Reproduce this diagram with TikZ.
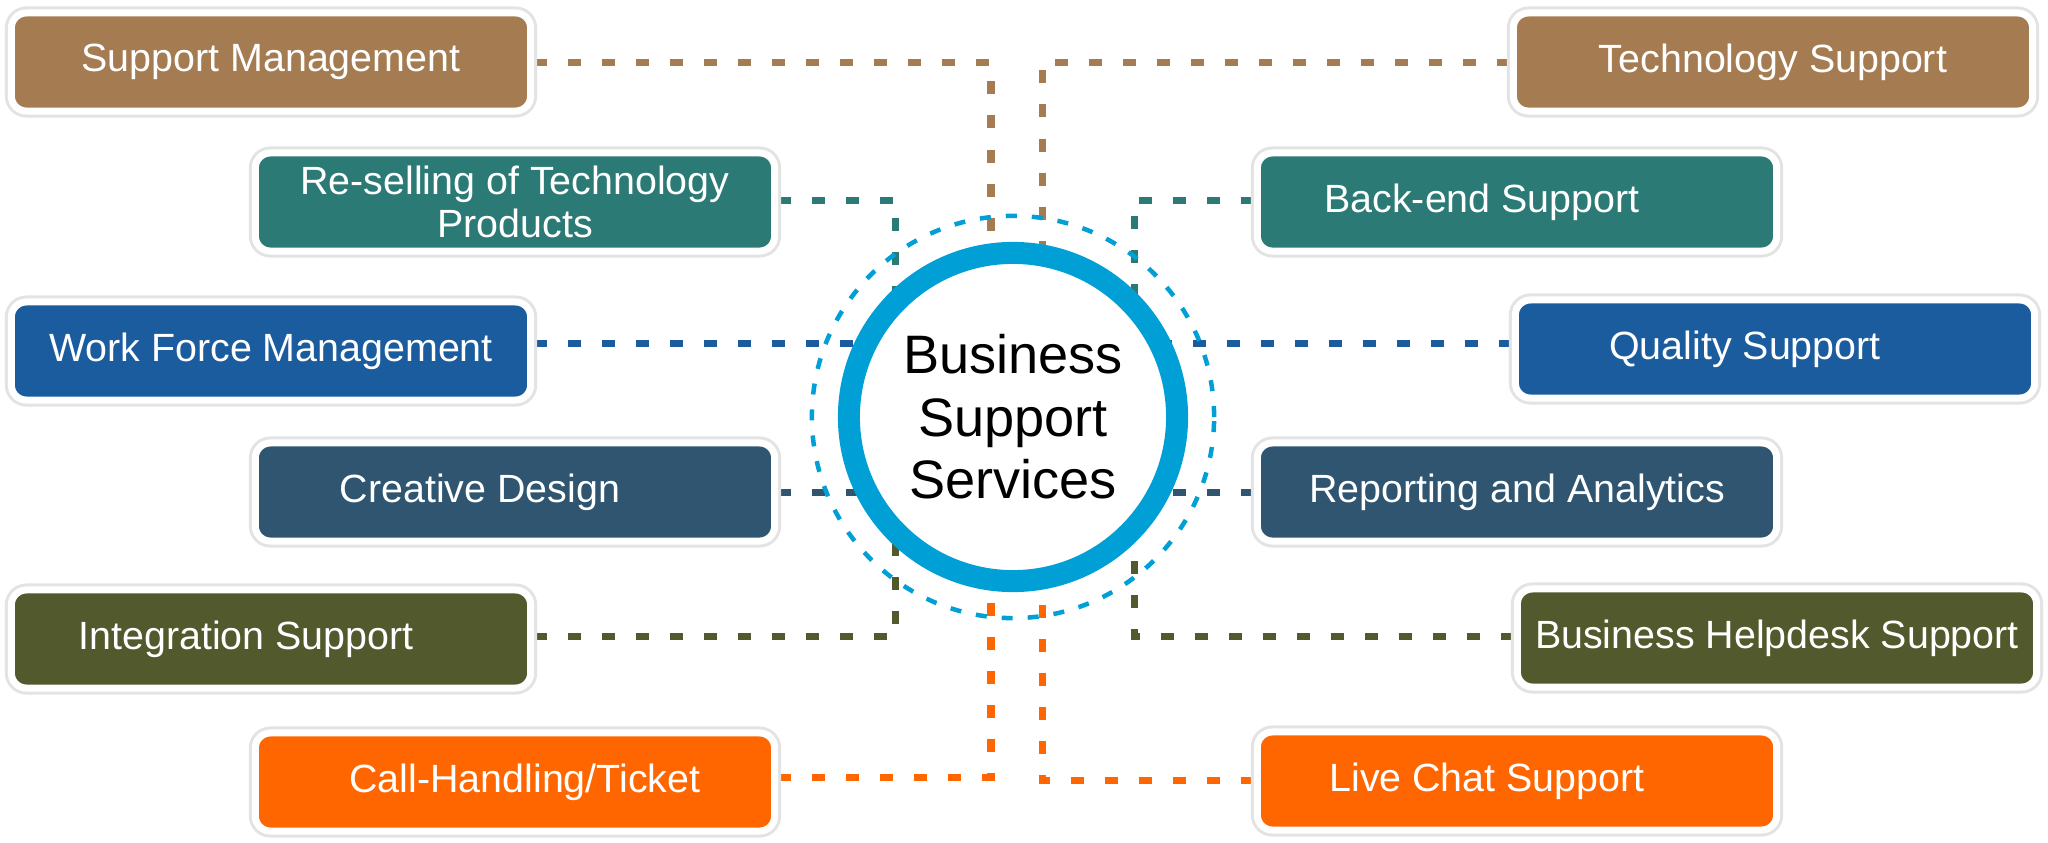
\documentclass[tikz,border=0pt]{standalone}
\usepackage{fontspec}
\setmainfont{Liberation Sans}
\usepackage{xcolor}
\usepackage{tikz}
\usetikzlibrary{positioning, backgrounds}

\definecolor{bsBrown}{RGB}{165,124,82}
\definecolor{bsTeal}{RGB}{44,122,117}
\definecolor{bsBlue}{RGB}{26,92,158}
\definecolor{bsSlate}{RGB}{47,85,112}
\definecolor{bsOlive}{RGB}{82,89,44}
\definecolor{bsOrange}{RGB}{255,102,0}
\definecolor{bsRing}{RGB}{0,160,214}

\begin{document}
\begin{tikzpicture}[
    x=0.01cm, y=-0.01cm,
    block/.style={rectangle, draw=white, line width=0.07cm, rounded corners=0.15cm, text=white, align=center, minimum width=5.19cm, minimum height=0.98cm, inner sep=0.05cm, font=\fontsize{11.2}{12.4}\selectfont, preaction={draw=black!11, line width=0.13cm}},
    link/.style={line width=0.07cm, dash pattern=on 0.13cm off 0.21cm}
]
\useasboundingbox (0,0) rectangle (2048,842);

% Hub
\node [circle, draw=bsRing, line width=0.22cm, fill=white, minimum size=3.28cm, align=center, font=\fontsize{15.4}{17.8}\selectfont] (bss) at (1013,417) {Business\\Support\\Services};
\draw [bsRing, line width=0.045cm, dash pattern=on 0.11cm off 0.15cm] (bss.center) circle (2.01cm);

% Left side
\node [block, fill=bsBrown] (smgmt) at (271,62) {Support Management};
\node [block, fill=bsTeal] (resell) at (515,202) {Re-selling of Technology\\Products};
\node [block, fill=bsBlue] (wfm) at (271,351) {Work Force Management};
\node [block, fill=bsSlate] (design) at (515,492) {Creative Design\hspace*{0.7cm}};
\node [block, fill=bsOlive] (integ) at (271,639) {Integration Support\hspace*{0.5cm}};
\node [block, fill=bsOrange] (call) at (515,782) {\hspace*{0.2cm}Call-Handling/Ticket};

% Right side
\node [block, fill=bsBrown] (tech) at (1773,62) {Technology Support};
\node [block, fill=bsTeal] (backend) at (1517,202) {Back-end Support\hspace*{0.7cm}};
\node [block, fill=bsBlue] (quality) at (1775,349) {Quality Support\hspace*{0.6cm}};
\node [block, fill=bsSlate] (report) at (1517,492) {Reporting and Analytics};
\node [block, fill=bsOlive] (helpdesk) at (1777,638) {Business Helpdesk Support};
\node [block, fill=bsOrange] (chat) at (1517,781) {Live Chat Support\hspace*{0.6cm}};

% Connectors
\begin{scope}[on background layer]
\draw [link, bsBrown] (smgmt.east) -| ([xshift=-0.22cm]bss.center);
\draw [link, bsBrown] (tech.west) -| ([xshift=0.29cm]bss.center);
\draw [link, bsTeal] ([yshift=0.02cm]resell.east) -| ([xshift=-1.17cm]bss.center);
\draw [link, bsTeal] ([yshift=0.02cm]backend.west) -| ([xshift=1.21cm]bss.center);
\draw [link, bsBlue] ([yshift=0.08cm]wfm.east) -| (bss.center);
\draw [link, bsBlue] ([yshift=0.06cm]quality.west) -| (bss.center);
\draw [link, bsSlate] (design.east) -| (bss.center);
\draw [link, bsSlate] (report.west) -| (bss.center);
\draw [link, bsOlive] ([yshift=0.03cm]integ.east) -| ([xshift=-1.17cm]bss.center);
\draw [link, bsOlive] ([yshift=0.02cm]helpdesk.west) -| ([xshift=1.21cm]bss.center);
\draw [link, bsOrange] ([yshift=0.05cm]call.east) -| ([xshift=-0.22cm]bss.center);
\draw [link, bsOrange] ([yshift=0.01cm]chat.west) -| ([xshift=0.29cm]bss.center);
\end{scope}
\end{tikzpicture}
\end{document}
